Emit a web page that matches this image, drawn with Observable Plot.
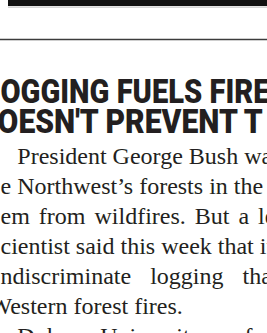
<!DOCTYPE html>
<html><head><meta charset="utf-8">
<script src="https://cdn.jsdelivr.net/npm/d3@7"></script>
<script src="https://cdn.jsdelivr.net/npm/@observablehq/plot@0.6"></script>
<style>
html,body{margin:0;padding:0;background:#fff;overflow:hidden;}
#chart svg{display:block;}
</style></head><body><div id="chart"></div>
<script>
// Text of the clipping, line by line (as visible in the crop)
const headlineLines = ["OGGING FUELS FIRE", "OESN'T PREVENT T"];
const bodyLines = [
  "President George Bush wa",
  "e Northwest\u2019s forests in the",
  "em from wildfires. But a le",
  "cientist said this week that it",
  "ndiscriminate logging tha",
  "Western forest fires.",
  "Duke University of"
];

// Layout: rows on a common baseline grid, x in body-em units
const EM = 24;
const headX = [0, -0.12];
const headLen = [269, 265];
const headRows = headlineLines.map((t, i) => ({t, row: i, x: headX[i], len: headLen[i]}));
const bodyX = [0.7, 0, 0, 0, 0, -0.46, 0.7];
const bodyWS = [0, 0, 3, 0, 13, 0, 25];
const bodyRows = bodyLines.map((t, i) => ({t, row: i + 2, x: bodyX[i], ws: bodyWS[i]}));

const plot = Plot.plot({
  width: 267,
  height: 333,
  margin: 0,
  x: {domain: [0, 267 / EM], axis: null},
  y: {domain: [-3.4, 7.7], reverse: true, axis: null},
  style: {background: "#fff", overflow: "hidden"},
  marks: [
    Plot.rect([0], {x1: 8 / EM, x2: 267 / EM, y1: -3.4, y2: -3.2, fill: "#111"}),
    Plot.ruleY([-3.18], {x1: 8 / EM, x2: 267 / EM, stroke: "#bbb", strokeWidth: 1}),
    Plot.ruleY([-2.1], {stroke: "#3c3c3c", strokeWidth: 1.5}),
    Plot.text(headRows, {
      x: "x", y: "row", text: "t",
      textAnchor: "start", lineAnchor: "bottom",
      fontSize: 33, fontWeight: 900,
      fontFamily: "Roboto, 'DejaVu Sans', sans-serif",
      fill: "#231f20", clip: "frame"
    }),
    Plot.text(bodyRows, {
      x: "x", y: "row", text: "t", dy: 1,
      textAnchor: "start", lineAnchor: "bottom",
      fontSize: 24,
      fontFamily: "'Liberation Serif', 'Times New Roman', serif",
      fill: "#231f20", clip: "frame"
    })
  ]
});
d3.select(plot).selectAll("text").each(function() {
  const txt = this.textContent;
  const b = bodyRows.find(r => r.t === txt);
  if (b && b.ws) this.style.wordSpacing = b.ws + "px";
  const h = headRows.find(r => r.t === txt);
  if (h) {
    this.setAttribute("textLength", h.len);
    this.setAttribute("lengthAdjust", "spacingAndGlyphs");
  }
});
document.getElementById("chart").appendChild(plot);
</script></body></html>
